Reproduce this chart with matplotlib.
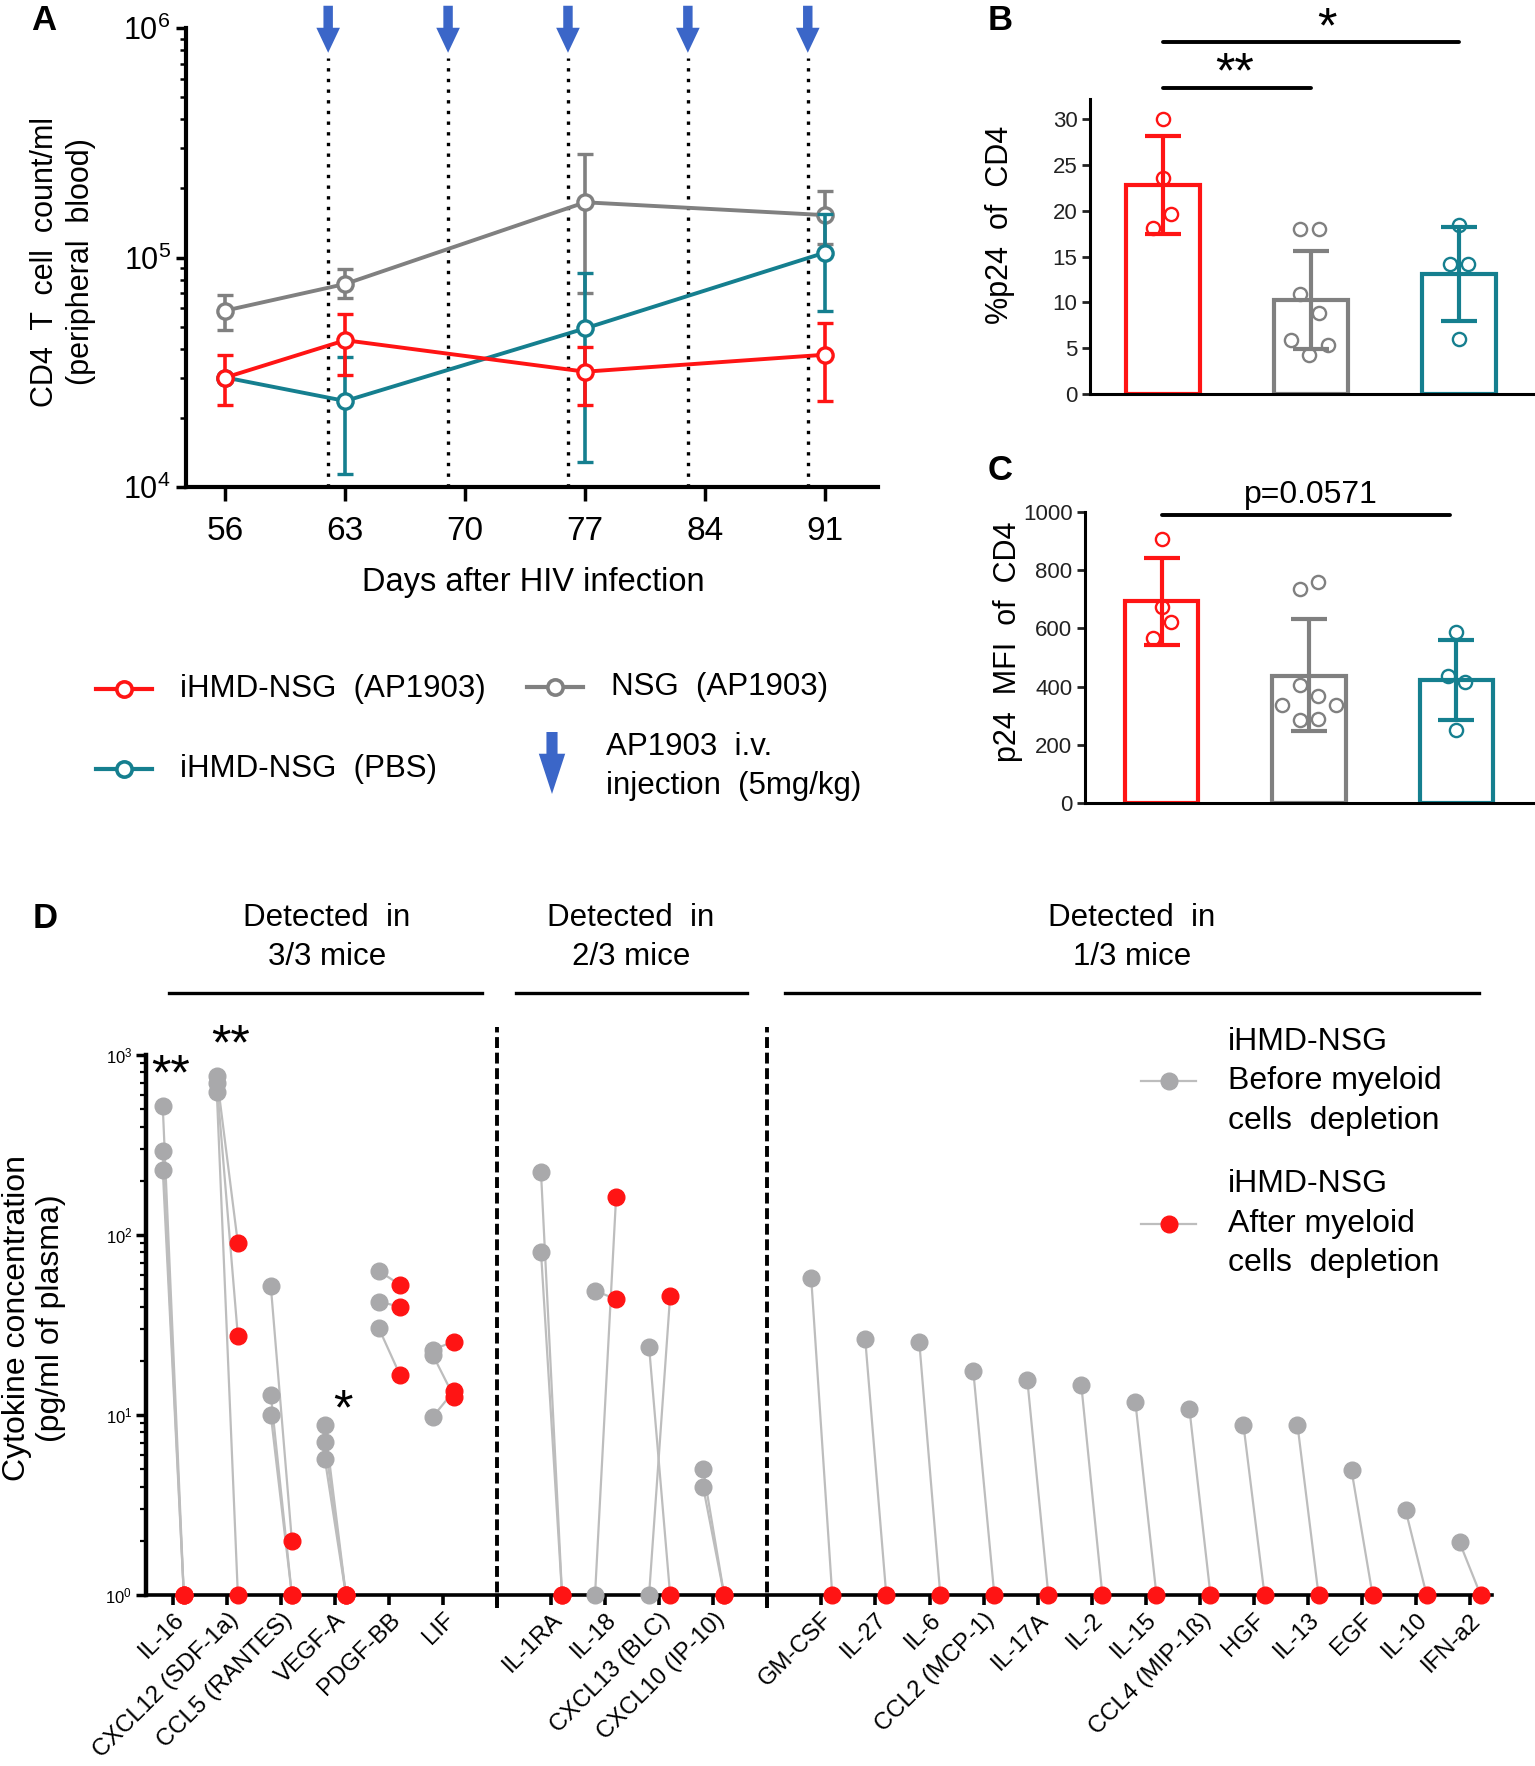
import numpy as np
import matplotlib
matplotlib.use('Agg')
import matplotlib.pyplot as plt
from matplotlib.ticker import LogLocator, NullFormatter

plt.rcParams['font.family'] = ['Liberation Sans', 'DejaVu Sans']
plt.rcParams['mathtext.fontset'] = 'custom'
plt.rcParams['mathtext.rm'] = 'Liberation Sans'
plt.rcParams['mathtext.it'] = 'Liberation Sans:italic'
plt.rcParams['mathtext.bf'] = 'Liberation Sans:bold'

RED = '#ff1414'
GRAY = '#808080'
TEAL = '#157f8f'
BLUE = '#3b66c8'
DOT_GRAY = '#a9a9ab'
LINE_GRAY = '#bdbdbd'

# ---------------- Panel A data ----------------
days = [56, 63, 77, 91]
xtick_days = [56, 63, 70, 77, 84, 91]
injection_days = [62, 69, 76, 83, 90]
nsg_mean = [5.87e4, 7.67e4, 1.74e5, 1.53e5]
nsg_lo = [4.85e4, 6.65e4, 7.0e4, 1.15e5]
nsg_hi = [6.87e4, 8.89e4, 2.83e5, 1.95e5]
ap_mean = [3.0e4, 4.36e4, 3.18e4, 3.77e4]
ap_lo = [2.27e4, 3.08e4, 2.27e4, 2.38e4]
ap_hi = [3.76e4, 5.7e4, 4.06e4, 5.17e4]
pbs_mean = [3.0e4, 2.37e4, 4.91e4, 1.05e5]
pbs_lo = [3.0e4, 1.14e4, 1.28e4, 5.82e4]
pbs_hi = [3.0e4, 3.68e4, 8.6e4, 1.54e5]
legendA = ['iHMD-NSG  (AP1903)', 'NSG  (AP1903)', 'iHMD-NSG  (PBS)']

# ---------------- Panel B data ----------------
b_mean = [22.8, 10.3, 13.15]
b_lo = [17.5, 4.95, 7.95]
b_hi = [28.2, 15.6, 18.2]
b_red = [30.0, 23.6, 19.6, 18.1]
b_red_jit = [0.0, 0.0, 0.06, -0.065]
b_gray = [18.0, 18.0, 10.9, 8.8, 5.85, 5.3, 4.3]
b_gray_jit = [-0.07, 0.055, -0.07, 0.055, -0.13, 0.115, -0.01]
b_teal = [18.4, 14.2, 14.2, 5.96]
b_teal_jit = [0.0, -0.06, 0.06, 0.0]

# ---------------- Panel C data ----------------
c_mean = [695, 438, 424]
c_lo = [543, 246, 286]
c_hi = [843, 632, 560]
c_red = [906, 675, 623, 566]
c_red_jit = [0.0, 0.0, 0.065, -0.06]
c_gray = [735, 758, 406, 366, 337, 337, 286, 289]
c_gray_jit = [-0.06, 0.06, -0.06, 0.06, -0.18, 0.18, -0.06, 0.06]
c_teal = [589, 435, 415, 251]
c_teal_jit = [0.0, -0.06, 0.06, 0.0]

# ---------------- Panel D data ----------------
d_names = ['IL-16', 'CXCL12 (SDF-1a)', 'CCL5 (RANTES)', 'VEGF-A', 'PDGF-BB', 'LIF', '',
           'IL-1RA', 'IL-18', 'CXCL13 (BLC)', 'CXCL10 (IP-10)', '',
           'GM-CSF', 'IL-27', 'IL-6', 'CCL2 (MCP-1)', 'IL-17A', 'IL-2', 'IL-15',
           'CCL4 (MIP-1ß)', 'HGF', 'IL-13', 'EGF', 'IL-10', 'IFN-a2']
d_before = [[520, 291, 231], [764, 700, 624], [52, 12.9, 10], [8.8, 7.1, 5.7],
            [63, 42.6, 30.3], [23.1, 21.5, 9.8], [],
            [223, 80.6], [49, 1], [24, 1], [5.0, 4.0], [],
            [58], [26.5], [25.6], [17.6], [15.7], [14.6], [11.8], [10.8], [8.8],
            [8.8], [4.93], [2.97], [1.96]]
d_after = [[1, 1, 1], [90, 27.5, 1], [2, 1, 1], [1, 1, 1],
           [53, 40, 16.7], [25.6, 12.6, 13.6], [],
           [1, 1], [44, 163], [1, 46], [1, 1], [],
           [1], [1], [1], [1], [1], [1], [1], [1], [1], [1], [1], [1], [1]]
group_titles = [('Detected  in', '3/3 mice'), ('Detected  in', '2/3 mice'), ('Detected  in', '1/3 mice')]
legendD = [('iHMD-NSG', 'Before myeloid', 'cells  depletion'),
           ('iHMD-NSG', 'After myeloid', 'cells  depletion')]

W, H = 1535, 1766
fig = plt.figure(figsize=(W / 100, H / 100), dpi=100)


def rect(l, t, r, b):
    return [l / W, 1 - b / H, (r - l) / W, (b - t) / H]


ARROW = 'simple,head_length=0.9,head_width=0.85,tail_width=0.34'

# ================= Panel A =================
axA = fig.add_axes(rect(186, 28, 878, 487))
axA.set_yscale('log')
axA.set_xlim(53.7, 94.1)
axA.set_ylim(1e4, 1e6)
for d in injection_days:
    axA.plot([d, d], [1e4, 7.4e5], color='black', lw=2.4, ls=(0, (1, 2.2)), zorder=1)
    axA.annotate('', xy=(d, 7.8e5), xytext=(d, 1.25e6),
                 arrowprops=dict(arrowstyle=ARROW, color=BLUE, lw=0, shrinkA=0, shrinkB=0,
                                 mutation_scale=20), annotation_clip=False)


def a_series(mean, lo, hi, color, z):
    m = np.array(mean); l = np.array(lo); h = np.array(hi)
    axA.errorbar(days, m, yerr=[m - l, h - m], color=color, lw=2.8, elinewidth=2.6,
                 capsize=6, capthick=2.6, marker='o', ms=11, mfc='white', mec=color,
                 mew=2.4, zorder=z, clip_on=False)


a_series(nsg_mean, nsg_lo, nsg_hi, GRAY, 3)
a_series(pbs_mean, pbs_lo, pbs_hi, TEAL, 4)
a_series(ap_mean, ap_lo, ap_hi, RED, 5)

for s in ['top', 'right']:
    axA.spines[s].set_visible(False)
for s in ['left', 'bottom']:
    axA.spines[s].set_linewidth(3)
axA.set_xticks(xtick_days)
axA.tick_params(axis='x', which='major', length=10, width=2.5, labelsize=24, pad=11)
axA.tick_params(axis='y', which='major', length=7, width=2.5, labelsize=22, pad=4)
axA.yaxis.set_minor_locator(LogLocator(base=10, subs=np.arange(2, 10)))
axA.yaxis.set_minor_formatter(NullFormatter())
axA.tick_params(axis='y', which='minor', length=4, width=1.8)

# ================= Panel B =================
colors3 = [RED, GRAY, TEAL]


def bar_panel(ax, means, lo, hi, pts, jits, capsize):
    x = np.arange(3)
    ax.bar(x, means, width=0.5, facecolor='white', edgecolor=colors3, linewidth=3, zorder=1)
    for i in range(3):
        ax.errorbar(i, means[i], yerr=[[means[i] - lo[i]], [hi[i] - means[i]]], color=colors3[i],
                    lw=3, capsize=capsize, capthick=3, zorder=2)
        ax.plot(i + np.array(jits[i]), pts[i], 'o', ms=9.5, mfc='none', mec=colors3[i], mew=1.7,
                zorder=3, clip_on=False)
    for s in ['top', 'right']:
        ax.spines[s].set_visible(False)
    for s in ['left', 'bottom']:
        ax.spines[s].set_linewidth(2.2)
    ax.set_xticks([])
    ax.tick_params(axis='y', length=6, width=2, labelsize=16, pad=3, colors='#222222')


axB = fig.add_axes(rect(1090, 99, 1533, 394))
axB.set_xlim(-0.49, 2.5)
axB.set_ylim(0, 32.2)
bar_panel(axB, b_mean, b_lo, b_hi, [b_red, b_gray, b_teal], [b_red_jit, b_gray_jit, b_teal_jit], 13)
axB.set_yticks([0, 5, 10, 15, 20, 25, 30])
axB.plot([0, 2], [38.4, 38.4], color='black', lw=2.8, clip_on=False, solid_capstyle='round')
axB.plot([0, 1], [33.4, 33.4], color='black', lw=2.8, clip_on=False, solid_capstyle='round')

# ================= Panel C =================
axC = fig.add_axes(rect(1085, 512, 1533, 803))
axC.set_xlim(-0.52, 2.52)
axC.set_ylim(0, 1000)
bar_panel(axC, c_mean, c_lo, c_hi, [c_red, c_gray, c_teal], [c_red_jit, c_gray_jit, c_teal_jit], 13)
axC.set_yticks([0, 200, 400, 600, 800, 1000])
axC.plot([0, 1.96], [990, 990], color='black', lw=2.8, clip_on=False, solid_capstyle='round')

# ================= Panel D =================
axD = fig.add_axes(rect(146, 1055, 1492, 1595))
axD.set_yscale('log')
axD.set_ylim(1, 1000)
axD.set_xlim(-0.5, 24.41)
OFF_B, OFF_A = -0.19, 0.2
for i, name in enumerate(d_names):
    for b, a in zip(d_before[i], d_after[i]):
        axD.plot([i + OFF_B, i + OFF_A], [b, a], color=LINE_GRAY, lw=1.6, zorder=2, clip_on=False)
    for b in d_before[i]:
        axD.plot(i + OFF_B, b, 'o', ms=12, color=DOT_GRAY, zorder=3, clip_on=False)
    for a in d_after[i]:
        axD.plot(i + OFF_A, a, 'o', ms=12, color=RED, zorder=4, clip_on=False)
for i, name in enumerate(d_names):
    if name == '':
        axD.plot([i, i], [0.85, 1430], color='black', lw=2.8, ls=(0, (2.8, 1.2)),
                 clip_on=False, zorder=1)
for s in ['top', 'right']:
    axD.spines[s].set_visible(False)
axD.spines['left'].set_linewidth(3.2)
axD.spines['bottom'].set_linewidth(2.6)
axD.set_xticks(np.arange(len(d_names)))
axD.set_xticklabels(d_names, rotation=45, ha='right', rotation_mode='anchor', fontsize=17.2)
axD.tick_params(axis='x', length=7, width=2.6, pad=3)
axD.tick_params(axis='y', which='major', length=7, width=2.5, labelsize=12, pad=3)
axD.yaxis.set_minor_locator(LogLocator(base=10, subs=np.arange(2, 10)))
axD.yaxis.set_minor_formatter(NullFormatter())
axD.tick_params(axis='y', which='minor', length=4, width=1.6)

# ================= Overlay texts & legends =================
ov = fig.add_axes([0, 0, 1, 1], zorder=10)
ov.set_xlim(0, W)
ov.set_ylim(H, 0)
ov.axis('off')

for lab, (x, y) in zip('ABCD', [(44, 20), (1000, 20), (1000, 471), (45, 918)]):
    ov.text(x, y, lab, fontsize=25, fontweight='bold', ha='center', va='center')

# Panel A labels
ov.text(45, 262, 'CD4  T  cell  count/ml', rotation=90, fontsize=22, ha='center', va='center')
ov.text(81, 262, '(peripheral  blood)', rotation=90, fontsize=22, ha='center', va='center')
ov.text(533, 583, 'Days after HIV infection', fontsize=23.5, ha='center', va='center')

# Panel A legend
for (x0, y0, col, lab) in [(96, 689, RED, legendA[0]), (527, 687, GRAY, legendA[1]),
                           (96, 769, TEAL, legendA[2])]:
    ov.plot([x0, x0 + 56], [y0, y0], color=col, lw=3)
    ov.plot(x0 + 28, y0, 'o', ms=11, mfc='white', mec=col, mew=2.6)
    ov.text(x0 + 84, y0, lab, fontsize=22.5, ha='left', va='center')
ov.annotate('', xy=(552, 794), xytext=(552, 732),
            arrowprops=dict(arrowstyle='simple,head_length=1.45,head_width=0.95,tail_width=0.4',
                            color=BLUE, lw=0, shrinkA=0, shrinkB=0, mutation_scale=20))
ov.text(606, 747, 'AP1903  i.v.', fontsize=22.5, ha='left', va='center')
ov.text(606, 786, 'injection  (5mg/kg)', fontsize=22.5, ha='left', va='center')

# Panel B / C labels
ov.text(1000, 225, '%p24  of  CD4', rotation=90, fontsize=22, ha='center', va='center')
ov.text(1008, 642, 'p24  MFI  of  CD4', rotation=90, fontsize=22, ha='center', va='center')
ov.text(1327, 42, '*', fontsize=36, ha='center', va='baseline')
ov.text(1235, 87, '**', fontsize=36, ha='center', va='baseline')
ov.text(1311, 503, 'p=0.0571', fontsize=23, ha='center', va='baseline')

# Panel D labels
ov.text(17, 1318, 'Cytokine concentration', rotation=90, fontsize=23, ha='center', va='center')
ov.text(51, 1318, '(pg/ml of plasma)', rotation=90, fontsize=23, ha='center', va='center')
for (l1, l2), xc, (xa, xb) in zip(group_titles, [327, 631, 1132],
                                  [(169, 482), (516, 747), (785, 1479)]):
    ov.text(xc, 918, l1, fontsize=22.5, ha='center', va='center')
    ov.text(xc, 957, l2, fontsize=22.5, ha='center', va='center')
    ov.plot([xa, xb], [993, 993], color='black', lw=2.4)
ov.text(171, 1089, '**', fontsize=36, ha='center', va='baseline')
ov.text(231, 1059, '**', fontsize=36, ha='center', va='baseline')
ov.text(343, 1424, '*', fontsize=36, ha='center', va='baseline')

for (lines, y0, col) in [(legendD[0], 1081, DOT_GRAY), (legendD[1], 1224, RED)]:
    ov.plot([1141, 1196], [y0, y0], color=LINE_GRAY, lw=1.6)
    ov.plot(1169, y0, 'o', ms=12, color=col)
    for k, t in enumerate(lines):
        ov.text(1228, y0 + (k - 1) * 39.5, t, fontsize=23, ha='left', va='center')

fig.savefig('out.png', dpi=100)
